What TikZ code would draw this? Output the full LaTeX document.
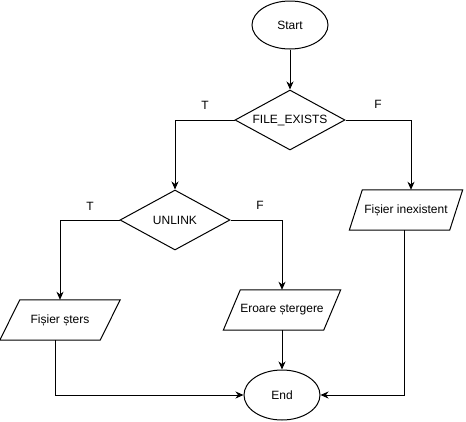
\documentclass[tikz,border=0pt]{standalone}
\usepackage{fontspec}
\setmainfont{Liberation Sans}
\usetikzlibrary{shapes.geometric,arrows.meta,calc}
\newcommand\skewbox[2]{\draw[line width=1pt] ($(#1.north west)+(#2/2,0)$) -- ($(#1.north east)+(#2/2,0)$) -- ($(#1.south east)+(-#2/2,0)$) -- ($(#1.south west)+(-#2/2,0)$) -- cycle;}
\begin{document}
\begin{tikzpicture}[x=1pt,y=-1pt,
  every node/.style={font=\fontsize{12}{14}\selectfont, text=black},
  line/.style={draw, line width=1pt},
  arr/.style={line, -{Stealth[length=8pt,width=7pt,inset=2.5pt]}},
  term/.style={ellipse, draw, line width=1pt, inner sep=0pt, minimum width=76, minimum height=48},
  dec/.style={diamond, draw, line width=1pt, inner sep=0pt, shape aspect=1.8333, minimum width=110, minimum height=60},
  para/.style={rectangle, inner sep=0pt, minimum width=100, minimum height=40},
  lbl/.style={inner sep=0pt}]
\fill[white] (0,0) rectangle (466,421);
\useasboundingbox (0,0) rectangle (466,421);

\node[term] (start) at (290,25) {Start};
\node[dec] (fe) at (290,120) {FILE\_EXISTS};
\node[dec] (unlink) at (175,220) {UNLINK};
\node[para] (fs) at (60,320) {Fișier șters};
\node[para] (es) at (282,310) {Eroare ștergere};
\node[para] (fi) at (406,210) {Fișier inexistent};
\node[term, minimum height=50] (end) at (282,395) {End};

\skewbox{fs}{20}
\skewbox{es}{17}
\skewbox{fi}{13}

\node[lbl] (t1) at (205,105) {T};
\node[lbl] (f1) at (378,104) {F};
\node[lbl] (t2) at (90,206) {T};
\node[lbl] (f2) at (260,205) {F};

\draw[arr] (start) -- (fe);
\draw[arr] (fe.west) -| (unlink.north);
\draw[arr] (fe.east) -| ([xshift=5pt]fi.north);
\draw[arr] (unlink.west) -| (fs.north);
\draw[arr] (unlink.east) -| (es.north);
\draw[arr] ([xshift=-5pt]fs.south) |- (end.west);
\draw[arr] (es.south) -- (end.north);
\draw[arr] ([xshift=-2pt]fi.south) |- (end.east);
\end{tikzpicture}
\end{document}
